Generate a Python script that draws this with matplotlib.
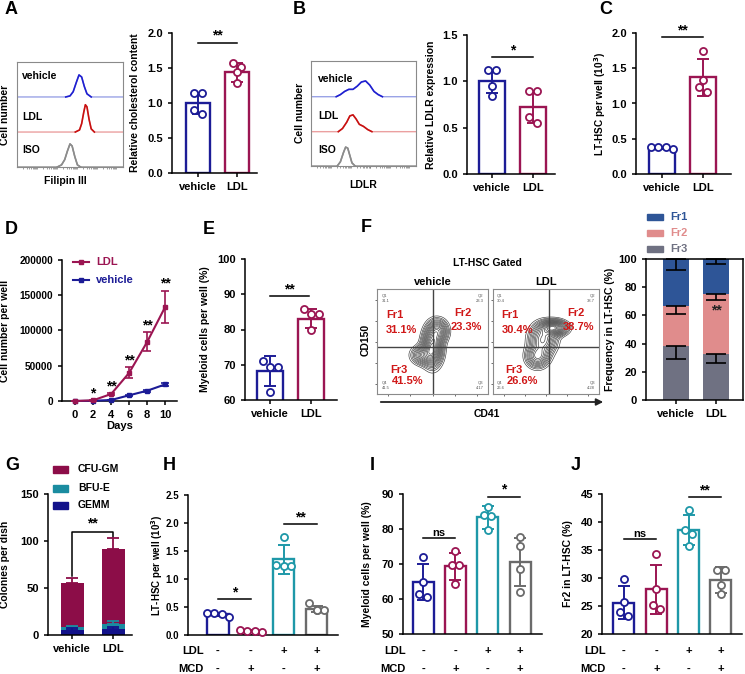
import numpy as np
import matplotlib
matplotlib.use('Agg')
import matplotlib.pyplot as plt
import matplotlib.transforms as mtrans
from matplotlib.patches import FancyArrowPatch, Rectangle
from matplotlib.lines import Line2D

plt.rcParams['font.family'] = ['Liberation Sans', 'DejaVu Sans']
plt.rcParams['font.weight'] = 'bold'
plt.rcParams['axes.labelweight'] = 'bold'
plt.rcParams['font.size'] = 8
plt.rcParams['axes.linewidth'] = 1.1
plt.rcParams['xtick.major.width'] = 1.1
plt.rcParams['ytick.major.width'] = 1.1
plt.rcParams['xtick.major.size'] = 3
plt.rcParams['ytick.major.size'] = 3

NAVY = '#1c1c96'
CRIM = '#9b1552'
TEAL = '#1e98a8'
GRAY = '#6b6b6b'

# ---------------- data ----------------
# A: histograms (x, height above baseline)
a_veh_x = [0.0, 0.46, 0.50, 0.53, 0.56, 0.585, 0.61, 0.635, 0.66, 0.70, 1.0]
a_veh_y = [0.0, 0.0, 0.01, 0.05, 0.14, 0.21, 0.19, 0.10, 0.03, 0.0, 0.0]
a_ldl_x = [0.0, 0.55, 0.59, 0.61, 0.63, 0.645, 0.66, 0.68, 0.70, 0.73, 1.0]
a_ldl_y = [0.0, 0.0, 0.02, 0.08, 0.19, 0.26, 0.24, 0.12, 0.03, 0.0, 0.0]
a_iso_x = [0.0, 0.38, 0.42, 0.45, 0.475, 0.50, 0.52, 0.545, 0.57, 0.60, 1.0]
a_iso_y = [0.0, 0.0, 0.02, 0.07, 0.15, 0.22, 0.20, 0.10, 0.02, 0.0, 0.0]
# A: cholesterol bars
a_means = [1.0, 1.44]
a_sds = [0.15, 0.135]
a_pts = [[1.15, 1.14, 0.90, 0.85], [1.57, 1.52, 1.44, 1.28]]

# B: histograms
b_veh_x = [0.0, 0.24, 0.28, 0.32, 0.36, 0.40, 0.44, 0.48, 0.52, 0.56, 0.60, 0.64, 0.68, 1.0]
b_veh_y = [0.0, 0.0, 0.02, 0.05, 0.07, 0.07, 0.10, 0.14, 0.15, 0.11, 0.05, 0.02, 0.0, 0.0]
b_ldl_x = [0.0, 0.26, 0.30, 0.34, 0.37, 0.40, 0.43, 0.46, 0.50, 0.54, 0.58, 1.0]
b_ldl_y = [0.0, 0.0, 0.03, 0.09, 0.15, 0.16, 0.12, 0.07, 0.05, 0.02, 0.0, 0.0]
b_iso_x = [0.0, 0.25, 0.28, 0.31, 0.33, 0.35, 0.37, 0.39, 0.42, 1.0]
b_iso_y = [0.0, 0.0, 0.04, 0.13, 0.18, 0.17, 0.10, 0.03, 0.0, 0.0]
# B: LDLR bars
b_means = [1.0, 0.72]
b_sds = [0.125, 0.175]
b_pts = [[1.12, 1.12, 0.95, 0.84], [0.90, 0.90, 0.62, 0.55]]

# C
c_means = [0.37, 1.37]
c_sds = [0.02, 0.26]
c_pts = [[0.36, 0.39, 0.38, 0.38], [1.75, 1.34, 1.23, 1.17]]

# D
days = [0, 2, 4, 6, 8, 10]
d_ldl = [0, 1000, 9900, 40000, 84000, 133700]
d_ldl_sd = [0, 300, 1000, 7800, 13500, 22700]
d_veh = [0, 300, 1400, 8100, 14600, 23600]
d_veh_sd = [0, 100, 400, 900, 1500, 2500]
d_stars = ['', '*', '**', '**', '**', '**']

# E
e_means = [68.3, 83.1]
e_sds = [4.3, 2.7]
e_pts = [[71.1, 69.5, 69.5, 62.2], [85.8, 84.3, 84.3, 79.9]]

# F: flow contours (blob centre x, y, sigma x, sigma y, weight)
f_veh_blobs = [[0.50, 0.45, 0.05, 0.10, 1.0], [0.55, 0.60, 0.05, 0.06, 0.6], [0.42, 0.37, 0.06, 0.05, 0.5]]
f_ldl_blobs = [[0.57, 0.63, 0.07, 0.04, 1.0], [0.47, 0.52, 0.07, 0.08, 0.7], [0.42, 0.36, 0.06, 0.06, 0.6]]
f_veh_q = ['31.1', '23.3', '41.5', '4.17']
f_ldl_q = ['30.4', '38.7', '26.6', '4.28']
# F: stacked fractions
f_groups = ['vehicle', 'LDL']
f_fr3 = [38.5, 32.7]
f_fr2 = [28.2, 42.7]
f_fr1 = [33.3, 24.6]
f_fr3_sd = [9.5, 6.2]
f_fr2_sd = [6.0, 4.3]
f_fr1_sd = [8.1, 3.6]

# G
g_gemm = [5, 6]
g_bfue = [3, 6]
g_cfugm = [47, 80]
g_gemm_sd = [2.5, 2.5]
g_bfue_sd = [2.0, 3.0]
g_cfugm_sd = [6.0, 11.0]

# H, I, J
ldl_flag = ['-', '-', '+', '+']
mcd_flag = ['-', '+', '-', '+']
h_means = [0.37, 0.08, 1.35, 0.46]
h_sds = [0.03, 0.015, 0.26, 0.05]
h_pts = [[0.33, 0.38, 0.39, 0.39], [0.06, 0.08, 0.09, 0.08], [1.75, 1.25, 1.24, 1.24], [0.58, 0.45, 0.45, 0.44]]
i_means = [64.8, 69.3, 83.3, 70.5]
i_sds = [5.1, 3.8, 3.2, 6.8]
i_pts = [[71.9, 65.0, 61.5, 60.5], [73.8, 69.8, 69.6, 64.3], [86.4, 84.0, 83.7, 79.7], [77.6, 75.2, 68.5, 62.0]]
j_means = [25.6, 28.0, 38.6, 29.6]
j_sds = [2.9, 4.4, 2.7, 2.3]
j_pts = [[29.8, 25.7, 24.0, 23.3], [34.2, 28.1, 25.1, 24.5], [42.2, 38.6, 37.9, 35.8], [31.5, 31.5, 28.7, 27.1]]

# ---------------- figure ----------------
W, H = 745, 674
fig = plt.figure(figsize=(W / 100, H / 100), dpi=100)


def px_axes(x0, y0, x1, y1):
    return fig.add_axes([x0 / W, 1 - y1 / H, (x1 - x0) / W, (y1 - y0) / H])


def ftext(x, y, s, **kw):
    fig.text(x / W, 1 - y / H, s, **kw)


def letter(x, y, s):
    ftext(x, y, s, fontsize=13, fontweight='bold', ha='center', va='center')


def prism(ax, size=8):
    for sp in ['top', 'right']:
        ax.spines[sp].set_visible(False)
    ax.tick_params(labelsize=size)


def ylab(ax, text, xpx, size=7.5):
    ax.set_ylabel(text, fontsize=size, fontweight='bold')
    pos = ax.get_position()
    ax.yaxis.set_label_coords((xpx / W - pos.x0) / pos.width, 0.5)


def swarm(ax, vals, size_px=7.5):
    pos = ax.get_position()
    ppu_y = pos.height * H / (ax.get_ylim()[1] - ax.get_ylim()[0])
    ppu_x = pos.width * W / (ax.get_xlim()[1] - ax.get_xlim()[0])
    tol = size_px / ppu_y
    step = size_px / ppu_x
    vals = np.asarray(vals)
    order = np.argsort(-vals)
    groups = []
    for idx in order:
        if groups and abs(vals[groups[-1][0]] - vals[idx]) < tol:
            groups[-1].append(idx)
        else:
            groups.append([idx])
    offs = np.zeros(len(vals))
    for g in groups:
        k = len(g)
        for j, idx in enumerate(g):
            offs[idx] = (j - (k - 1) / 2) * step
    return offs


def dot_bars(ax, means, sds, pts, colors, width=0.62, cap=4.5):
    for i in range(len(means)):
        c = colors[i]
        ax.bar(i, means[i], width, facecolor='white', edgecolor=c, linewidth=1.7, zorder=2)
        ax.errorbar(i, means[i], yerr=sds[i], color=c, capsize=cap, elinewidth=1.4,
                    capthick=1.4, zorder=3)
        offs = swarm(ax, pts[i])
        ax.scatter(i + offs, pts[i], s=26, facecolors='white', edgecolors=c,
                   linewidths=1.3, zorder=4, clip_on=False)


def sig(ax, x1, x2, y, s, lw=1.1):
    ax.plot([x1, x2], [y, y], color='k', lw=lw, clip_on=False)
    ax.text((x1 + x2) / 2, y, s, ha='center', va='bottom', fontsize=10 if '*' in s else 8,
            fontweight='bold', clip_on=False)


def hist_panel(ax, curves):
    for sp in ax.spines.values():
        sp.set_color('#8a8a8a')
        sp.set_linewidth(0.8)
    ax.set_xlim(0, 1)
    ax.set_ylim(0, 1)
    ax.set_yticks([])
    ticks = [(np.log10(m * 10.0 ** k) + 1) / 5.3 for k in range(-1, 4) for m in range(1, 10)]
    ticks = [t for t in ticks if 0.02 < t < 0.99]
    ax.set_xticks(ticks)
    ax.set_xticklabels([])
    ax.tick_params(axis='x', length=1.5, width=0.5, color='#777777')
    for xs, ys, base, dark, light in curves:
        yy = base + np.asarray(ys)
        ax.plot(xs, yy, color=light, lw=1.0)
        ax.plot(xs[1:-1], yy[1:-1], color=dark, lw=1.2)


# ---------- A ----------
letter(11, 10, 'A')
ax = px_axes(17, 62, 123, 167)
hist_panel(ax, [(a_veh_x, a_veh_y, 0.667, '#1f1fd0', '#9aa3e6'),
                (a_ldl_x, a_ldl_y, 0.333, '#c81010', '#eba0a0'),
                (a_iso_x, a_iso_y, 0.0, '#8c8c8c', '#8c8c8c')])
ftext(22, 76, 'vehicle', fontsize=7.5, va='center')
ftext(22, 117, 'LDL', fontsize=7.5, va='center')
ftext(22, 150, 'ISO', fontsize=7.5, va='center')
ftext(65, 181, 'Filipin III', fontsize=7.5, ha='center', va='center')
ftext(5, 115, 'Cell number', fontsize=7.5, ha='center', va='center', rotation=90)

ax = px_axes(172, 33, 257, 173)
prism(ax)
ax.set_xlim(-0.67, 1.51)
ax.set_ylim(0, 2.0)
ax.set_yticks([0, 0.5, 1.0, 1.5, 2.0])
ax.set_yticklabels(['0.0', '0.5', '1.0', '1.5', '2.0'])
ax.set_xticks([0, 1])
ax.set_xticklabels(['vehicle', 'LDL'])
dot_bars(ax, a_means, a_sds, a_pts, [NAVY, CRIM])
sig(ax, 0, 1, 1.86, '**')
ylab(ax, 'Relative cholesterol content', 140)

# ---------- B ----------
letter(299, 10, 'B')
ax = px_axes(311, 61, 416, 166)
hist_panel(ax, [(b_veh_x, b_veh_y, 0.66, '#1f1fd0', '#9aa3e6'),
                (b_ldl_x, b_ldl_y, 0.327, '#c81010', '#eba0a0'),
                (b_iso_x, b_iso_y, 0.0, '#8c8c8c', '#8c8c8c')])
ftext(318, 79, 'vehicle', fontsize=7.5, va='center')
ftext(318, 116, 'LDL', fontsize=7.5, va='center')
ftext(318, 150, 'ISO', fontsize=7.5, va='center')
ftext(363, 185, 'LDLR', fontsize=7.5, ha='center', va='center')
ftext(300, 113, 'Cell number', fontsize=7.5, ha='center', va='center', rotation=90)

ax = px_axes(467, 35, 555, 174)
prism(ax)
ax.set_xlim(-0.61, 1.54)
ax.set_ylim(0, 1.5)
ax.set_yticks([0, 0.5, 1.0, 1.5])
ax.set_yticklabels(['0.0', '0.5', '1.0', '1.5'])
ax.set_xticks([0, 1])
ax.set_xticklabels(['vehicle', 'LDL'])
dot_bars(ax, b_means, b_sds, b_pts, [NAVY, CRIM])
sig(ax, 0, 1, 1.26, '*')
ylab(ax, 'Relative LDLR expression', 436)

# ---------- C ----------
letter(606, 10, 'C')
ax = px_axes(636, 33, 731, 174)
prism(ax)
ax.set_xlim(-0.63, 1.68)
ax.set_ylim(0, 2.0)
ax.set_yticks([0, 0.5, 1.0, 1.5, 2.0])
ax.set_yticklabels(['0.0', '0.5', '1.0', '1.5', '2.0'])
ax.set_xticks([0, 1])
ax.set_xticklabels(['vehicle', 'LDL'])
dot_bars(ax, c_means, c_sds, c_pts, [NAVY, CRIM])
sig(ax, 0, 1, 1.94, '**')
ylab(ax, 'LT-HSC per well (10$^{3}$)', 608, size=7.2)

# ---------- D ----------
letter(11, 229, 'D')
ax = px_axes(62, 260, 177, 401)
prism(ax, 7.2)
ax.set_xlim(-1.45, 11.3)
ax.set_ylim(0, 200000)
ax.set_yticks([0, 50000, 100000, 150000, 200000])
ax.set_yticklabels(['0', '50000', '100000', '150000', '200000'])
ax.set_xticks(days)
ax.tick_params(axis='x', labelsize=8)
ax.set_xlabel('Days', fontsize=8, labelpad=1)
ax.errorbar(days, d_veh, yerr=d_veh_sd, color=NAVY, marker='s', ms=3.5, lw=1.5,
            capsize=3, elinewidth=1.2, capthick=1.2, clip_on=False, zorder=3)
ax.errorbar(days, d_ldl, yerr=d_ldl_sd, color=CRIM, marker='s', ms=3.5, lw=1.5,
            capsize=3, elinewidth=1.2, capthick=1.2, clip_on=False, zorder=4)
for dx, m, s, st in zip(days, d_ldl, d_ldl_sd, d_stars):
    if st:
        ax.annotate(st, (dx, m + s), xytext=(0, 0), textcoords='offset points',
                    ha='center', va='bottom', fontsize=10, fontweight='bold')
ylab(ax, 'Cell number per well', 10)
for yy, col, lab in [(262, CRIM, 'LDL'), (280, NAVY, 'vehicle')]:
    fig.add_artist(Line2D([73 / W, 89 / W], [1 - yy / H] * 2, color=col, lw=1.5))
    fig.add_artist(Line2D([81 / W], [1 - yy / H], color=col, marker='s', ms=3.5))
    ftext(96, yy, lab, fontsize=8, color=col, va='center')

# ---------- E ----------
letter(209, 229, 'E')
ax = px_axes(245, 259, 337, 400)
prism(ax)
ax.set_xlim(-0.61, 1.63)
ax.set_ylim(60, 100)
ax.set_yticks([60, 70, 80, 90, 100])
ax.set_xticks([0, 1])
ax.set_xticklabels(['vehicle', 'LDL'])
dot_bars(ax, e_means, e_sds, e_pts, [NAVY, CRIM])
sig(ax, 0, 0.95, 89.4, '**')
ylab(ax, 'Myeloid cells per well (%)', 210)

# ---------- F ----------
letter(366, 227, 'F')
ftext(487, 263, 'LT-HSC Gated', fontsize=7.5, ha='center', va='center')
gx, gy = np.meshgrid(np.linspace(0, 1, 220), np.linspace(0, 1, 220))
for box, title, blobs, q, vx in [((377, 289, 488, 394), 'vehicle', f_veh_blobs, f_veh_q, 0.50),
                                  ((493, 289, 599, 394), 'LDL', f_ldl_blobs, f_ldl_q, 0.53)]:
    ax = px_axes(*box)
    ax.set_xlim(0, 1)
    ax.set_ylim(0, 1)
    for sp in ax.spines.values():
        sp.set_color('#8a8a8a')
        sp.set_linewidth(0.8)
    ax.set_xticks([0.1, 0.3, 0.5, 0.7, 0.9])
    ax.set_yticks([0.1, 0.3, 0.5, 0.7, 0.9])
    ax.set_xticklabels([])
    ax.set_yticklabels([])
    ax.tick_params(length=1.5, width=0.6, color='#555555')
    z = np.zeros_like(gx)
    for bx, by, sx, sy, w in blobs:
        z += w * np.exp(-((gx - bx) ** 2 / (2 * sx ** 2) + (gy - by) ** 2 / (2 * sy ** 2)))
    lv = z.max() * np.array([0.04, 0.07, 0.1, 0.14, 0.18, 0.23, 0.28, 0.34, 0.4, 0.47,
                             0.54, 0.62, 0.7, 0.78, 0.86, 0.93])
    ax.contour(gx, gy, z, levels=lv, colors='#3a3a3a', linewidths=0.45)
    ax.axvline(vx, color='#444444', lw=1.0)
    ax.axhline(0.45, color='#444444', lw=1.0)
    ax.text(0.04, 0.95, 'Q1\n' + q[0], fontsize=3, color='#555555', va='top', fontweight='normal')
    ax.text(0.96, 0.95, 'Q2\n' + q[1], fontsize=3, color='#555555', va='top', ha='right',
            fontweight='normal')
    ax.text(0.04, 0.04, 'Q4\n' + q[2], fontsize=3, color='#555555', va='bottom', fontweight='normal')
    ax.text(0.96, 0.04, 'Q3\n' + q[3], fontsize=3, color='#555555', va='bottom', ha='right',
            fontweight='normal')
    red = '#d01818'
    ax.text(0.08, 0.75, 'Fr1', color=red, fontsize=8, va='center')
    ax.text(0.08, 0.61, q[0] + '%', color=red, fontsize=8, va='center')
    ax.text(0.70, 0.77, 'Fr2', color=red, fontsize=8, va='center')
    ax.text(0.66, 0.64, q[1] + '%', color=red, fontsize=8, va='center')
    ax.text(0.12, 0.23, 'Fr3', color=red, fontsize=8, va='center')
    ax.text(0.13, 0.12, q[2] + '%', color=red, fontsize=8, va='center')
    ftext((box[0] + box[2]) / 2, 282, title, fontsize=8, ha='center', va='center')
fig.add_artist(FancyArrowPatch((378 / W, 1 - 402 / H), (606 / W, 1 - 402 / H),
                               transform=fig.transFigure, arrowstyle='-|>',
                               mutation_scale=10, lw=1.3, color='#222222'))
ftext(366, 340, 'CD150', fontsize=7.5, rotation=90, ha='center', va='center')
ftext(487, 414, 'CD41', fontsize=7.5, ha='center', va='center')

ax = px_axes(646, 259, 743, 400)
ax.tick_params(labelsize=8)
ax.set_xlim(-0.75, 1.675)
ax.set_ylim(0, 100)
ax.set_yticks([0, 20, 40, 60, 80, 100])
ax.set_xticks([0, 1])
ax.set_xticklabels(f_groups)
xs = np.arange(2)
c1, c2, c3 = '#2e5597', '#e08c8c', '#6f7182'
b3 = np.array(f_fr3)
b2 = b3 + np.array(f_fr2)
b1 = b2 + np.array(f_fr1)
ax.bar(xs, f_fr3, 0.65, color=c3, zorder=2)
ax.bar(xs, f_fr2, 0.65, bottom=b3, color=c2, zorder=2)
ax.bar(xs, f_fr1, 0.65, bottom=b2, color=c1, zorder=2)
for tops, sds in [(b3, f_fr3_sd), (b2, f_fr2_sd), (b1, f_fr1_sd)]:
    ax.errorbar(xs, tops, yerr=[sds, [0, 0]], fmt='none', ecolor='k', capsize=7,
                elinewidth=1.2, capthick=1.2, zorder=3, clip_on=False)
ax.text(1, 63.5, '**', ha='center', va='center', fontsize=10, color='#222222')
ylab(ax, 'Frequency in LT-HSC (%)', 615)
for yy, col, lab in [(217, c1, 'Fr1'), (233, c2, 'Fr2'), (249, c3, 'Fr3')]:
    fig.add_artist(Rectangle((647 / W, 1 - (yy + 3) / H), 16 / W, 6 / H, color=col,
                             transform=fig.transFigure))
    ftext(670, yy, lab, fontsize=8, color=col, va='center')

# ---------- G ----------
letter(12, 466, 'G')
ax = px_axes(48, 494, 132, 635)
prism(ax)
ax.set_xlim(-0.585, 1.46)
ax.set_ylim(0, 150)
ax.set_yticks([0, 50, 100, 150])
ax.set_xticks([0, 1])
ax.set_xticklabels(['vehicle', 'LDL'])
gc1, gc2, gc3 = '#8c0d48', '#1a8ca0', '#12128a'
t1 = np.array(g_gemm)
t2 = t1 + np.array(g_bfue)
t3 = t2 + np.array(g_cfugm)
for tops, sds, col in [(t3, g_cfugm_sd, gc1), (t2, g_bfue_sd, gc2), (t1, g_gemm_sd, gc3)]:
    ax.errorbar(xs, tops, yerr=[[0, 0], sds], fmt='none', ecolor=col, capsize=4.5,
                elinewidth=1.3, capthick=1.3, zorder=3)
ax.bar(xs, g_gemm, 0.56, color=gc3, zorder=2)
ax.bar(xs, g_bfue, 0.56, bottom=t1, color=gc2, zorder=2)
ax.bar(xs, g_cfugm, 0.56, bottom=t2, color=gc1, zorder=2)
top_l = t3[0] + g_cfugm_sd[0] + 2
top_r = t3[1] + g_cfugm_sd[1] + 1
ax.plot([0, 0, 1, 1], [top_l, 110, 110, top_r], color='k', lw=1.1)
ax.text(0.5, 111, '**', ha='center', va='bottom', fontsize=10)
ylab(ax, 'Colonies per dish', 10)
for yy, col, lab in [(469, gc1, 'CFU-GM'), (488, gc2, 'BFU-E'), (505, gc3, 'GEMM')]:
    fig.add_artist(Rectangle((53 / W, 1 - (yy + 3.5) / H), 15 / W, 7 / H, color=col,
                             transform=fig.transFigure))
    ftext(78, yy, lab, fontsize=7.5, va='center')


# ---------- H, I, J ----------
def flag_rows(ax, label_x):
    tr = mtrans.blended_transform_factory(ax.transData, fig.transFigure)
    for i in range(4):
        ax.text(i, 1 - 651 / H, ldl_flag[i], transform=tr, ha='center', va='center', fontsize=8)
        ax.text(i, 1 - 669 / H, mcd_flag[i], transform=tr, ha='center', va='center', fontsize=8)
    ftext(label_x, 651, 'LDL', ha='right', va='center', fontsize=8)
    ftext(label_x, 669, 'MCD', ha='right', va='center', fontsize=8)


four = [NAVY, CRIM, TEAL, GRAY]

letter(169, 466, 'H')
ax = px_axes(188, 495, 338, 635)
prism(ax, 7)
ax.set_xlim(-0.91, 3.64)
ax.set_ylim(0, 2.5)
ax.set_yticks([0, 0.5, 1.0, 1.5, 2.0, 2.5])
ax.set_yticklabels(['0.0', '0.5', '1.0', '1.5', '2.0', '2.5'])
ax.set_xticks([])
dot_bars(ax, h_means, h_sds, h_pts, four, width=0.64, cap=4)
sig(ax, 0, 1, 0.64, '*')
sig(ax, 2, 3, 1.98, '**')
ylab(ax, 'LT-HSC per well (10$^{3}$)', 165, size=7)
flag_rows(ax, 204)

letter(372, 466, 'I')
ax = px_axes(403, 494, 542, 634)
prism(ax)
ax.set_xlim(-0.62, 3.68)
ax.set_ylim(50, 90)
ax.set_yticks([50, 60, 70, 80, 90])
ax.set_xticks([])
dot_bars(ax, i_means, i_sds, i_pts, four, width=0.65, cap=4)
sig(ax, 0, 1, 77.4, 'ns')
sig(ax, 2, 3, 89.2, '*')
ylab(ax, 'Myeloid cells per well (%)', 372)
flag_rows(ax, 406)

letter(576, 466, 'J')
ax = px_axes(602, 494, 742, 634)
prism(ax)
ax.set_xlim(-0.68, 3.65)
ax.set_ylim(20, 45)
ax.set_yticks([20, 25, 30, 35, 40, 45])
ax.set_xticks([])
dot_bars(ax, j_means, j_sds, j_pts, four, width=0.65, cap=4)
sig(ax, 0, 1, 37.0, 'ns')
sig(ax, 2, 3, 44.4, '**')
ylab(ax, 'Fr2 in LT-HSC (%)', 573)
flag_rows(ax, 606)

fig.savefig('out.png', dpi=100)
